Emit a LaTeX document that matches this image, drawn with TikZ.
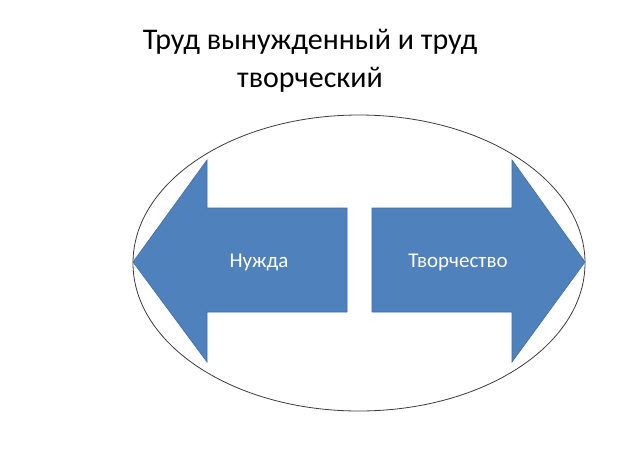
\documentclass[tikz,border=0pt]{standalone}
\usepackage{fontspec}
\setmainfont{Carlito}
\begin{document}
\begin{tikzpicture}[x=1pt,y=-1pt,
  arr/.style={fill={rgb,255:red,79;green,129;blue,189},draw={rgb,255:red,65;green,110;blue,165},line width=0.6pt},
  lbl/.style={text=white,font=\fontsize{21}{25}\selectfont},
  ttl/.style={font=\fontsize{30}{36}\selectfont}]
\useasboundingbox[fill=white] (0,0) rectangle (620,464);
\draw[line width=0.8pt,draw={rgb,255:red,60;green,60;blue,60}] (359,263) ellipse [x radius=226, y radius=148];
\draw[arr] (133,262) -- (207,160) -- (207,208) -- (347,208) -- (347,312) -- (207,312) -- (207,362) -- cycle;
\draw[arr] (585,262) -- (512,160) -- (512,208) -- (372,208) -- (372,312) -- (512,312) -- (512,362) -- cycle;
\node[lbl] (need) at (259,262) {Нужда};
\node[lbl] (create) at (458,262) {Творчество};
\node[ttl] (t1) at (310,42) {Труд вынужденный и труд};
\node[ttl] (t2) at (310,80) {творческий};
\end{tikzpicture}
\end{document}
